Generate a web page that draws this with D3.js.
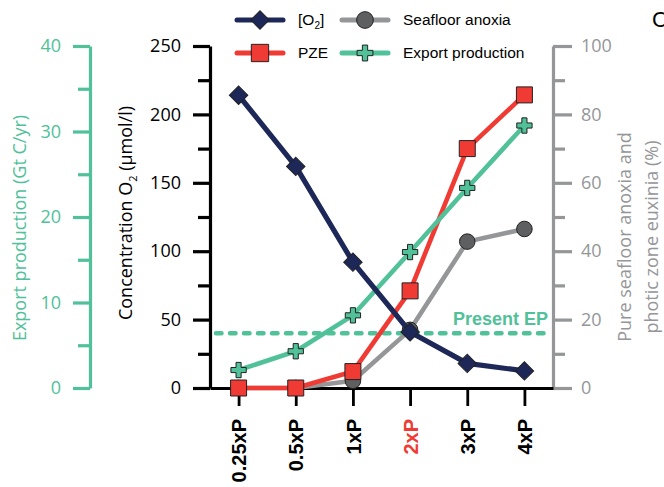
<!DOCTYPE html>
<html><head><meta charset="utf-8">
<script src="https://cdn.jsdelivr.net/npm/d3@7"></script>
<style>body{margin:0;background:#fff}</style>
</head><body><svg width="664" height="487"></svg>
<script>
// ### Data ###
var scenarios = ['0.25xP', '0.5xP', '1xP', '2xP', '3xP', '4xP'];
var o2 = [214, 162, 92, 41, 18, 12.5];          // µmol/l
var pze = [0, 0, 4.8, 28.4, 70, 85.7];           // %
var anoxia = [0, 0, 2.1, 17, 42.8, 46.5];        // %
var exportProd = [2.1, 4.3, 8.5, 15.9, 23.4, 30.7]; // Gt C/yr
var presentEP = 6.4;
var o2Ticks = [0, 50, 100, 150, 200, 250];
var o2Minor = [25, 75, 125, 175, 225];
var epTicks = [0, 10, 20, 30, 40];
var epMinor = [5, 15, 25, 35];
var pctTicks = [0, 20, 40, 60, 80, 100];
var pctMinor = [10, 30, 50, 70, 90];

var navy = '#1d2859', red = '#ef3b33', gray = '#949698', grayDark = '#5e5f61', green = '#50c198';
var numFont = '"Open Sans", sans-serif', legFont = '"Liberation Sans", Arial, sans-serif';

var svg = d3.select('svg');

// ### Scales ###
var plotTop = 46, plotBottom = 388, plotLeft = 210, plotRight = 553;
var x = d3.scalePoint().domain(scenarios).range([plotLeft, plotRight]).padding(0.5);
var yO2 = d3.scaleLinear().domain([0, 250]).range([plotBottom, plotTop]);
var yEP = d3.scaleLinear().domain([0, 40]).range([plotBottom, plotTop]);
var yPct = d3.scaleLinear().domain([0, 100]).range([plotBottom, plotTop]);

// ### Axes ###
function styleAxis(g, color, font) {
	g.select('.domain').attr('stroke', color).attr('stroke-width', 3.2);
	g.selectAll('.tick line').attr('stroke', color).attr('stroke-width', 3.2);
	g.selectAll('.tick text').attr('fill', color).style('font-family', font).style('font-size', '18px');
}

// green export production axis
var gEP = svg.append('g').attr('transform', 'translate(90,0)')
	.call(d3.axisLeft(yEP).tickValues(epTicks).tickSize(17).tickSizeOuter(0).tickPadding(12));
styleAxis(gEP, green, numFont);
svg.append('g').attr('transform', 'translate(90,0)')
	.call(d3.axisLeft(yEP).tickValues(epMinor).tickSize(12).tickFormat(''))
	.call(g => { g.select('.domain').remove(); g.selectAll('line').attr('stroke', green).attr('stroke-width', 3.2); });

// black O2 axis
var gO2 = svg.append('g').attr('transform', `translate(${plotLeft},0)`)
	.call(d3.axisLeft(yO2).tickValues(o2Ticks).tickSize(17).tickSizeOuter(0).tickPadding(12));
styleAxis(gO2, '#000', numFont);
svg.append('g').attr('transform', `translate(${plotLeft},0)`)
	.call(d3.axisLeft(yO2).tickValues(o2Minor).tickSize(12).tickFormat(''))
	.call(g => { g.select('.domain').remove(); g.selectAll('line').attr('stroke', '#000').attr('stroke-width', 3.2); });

// gray percent axis
var gPct = svg.append('g').attr('transform', `translate(${plotRight},0)`)
	.call(d3.axisRight(yPct).tickValues(pctTicks).tickSize(19).tickSizeOuter(0).tickPadding(9));
styleAxis(gPct, gray, numFont);
svg.append('g').attr('transform', `translate(${plotRight},0)`)
	.call(d3.axisRight(yPct).tickValues(pctMinor).tickSize(12).tickFormat(''))
	.call(g => { g.select('.domain').remove(); g.selectAll('line').attr('stroke', gray).attr('stroke-width', 3.2); });

// x axis
var gX = svg.append('g').attr('transform', `translate(0,${plotBottom})`)
	.call(d3.axisBottom(x).tickSize(18).tickSizeOuter(0));
gX.select('.domain').attr('stroke', '#000').attr('stroke-width', 2.8);
gX.selectAll('.tick line').attr('stroke', '#000').attr('stroke-width', 2.8);
gX.selectAll('.tick text')
	.attr('transform', 'rotate(-90)')
	.attr('x', -31).attr('y', 0).attr('dy', '0.36em')
	.attr('text-anchor', 'end')
	.style('font-family', legFont).style('font-size', '20px').style('font-weight', 'bold')
	.attr('fill', d => d === '2xP' ? red : '#000');

// ### Axis titles ###
svg.append('text').attr('transform', 'translate(26,228) rotate(-90)')
	.attr('text-anchor', 'middle').attr('fill', green)
	.style('font-family', numFont).style('font-size', '18px')
	.text('Export production (Gt C/yr)');

var t2 = svg.append('text').attr('transform', 'translate(132,213) rotate(-90)')
	.attr('text-anchor', 'middle').attr('fill', '#000')
	.style('font-family', numFont).style('font-size', '18px');
t2.append('tspan').text('Concentration O');
t2.append('tspan').text('2').attr('dy', 5).style('font-size', '11px');
t2.append('tspan').text(' (µmol/l)').attr('dy', -5);

var t3 = svg.append('text').attr('transform', 'translate(631,237) rotate(-90)')
	.attr('text-anchor', 'middle').attr('fill', gray)
	.style('font-family', numFont).style('font-size', '18px');
t3.append('tspan').attr('x', 0).text('Pure seafloor anoxia and');
t3.append('tspan').attr('x', 0).attr('dy', 27).text('photic zone euxinia (%)');

// ### Present EP ###
svg.append('line')
	.attr('x1', 216).attr('x2', plotRight - 3)
	.attr('y1', yEP(presentEP)).attr('y2', yEP(presentEP))
	.attr('stroke', green).attr('stroke-width', 4.5)
	.attr('stroke-linecap', 'round').attr('stroke-dasharray', '5.5,8.5');
svg.append('text').attr('x', 548).attr('y', yEP(presentEP) - 8)
	.attr('text-anchor', 'end').attr('fill', green)
	.style('font-family', legFont).style('font-size', '18px').style('font-weight', 'bold')
	.text('Present EP');

// ### Series ###
var series = [
	{name: 'Seafloor anoxia', vals: anoxia, y: yPct, color: gray, fill: grayDark, sym: d3.symbolCircle, size: 190, rot: 0},
	{name: 'PZE', vals: pze, y: yPct, color: red, fill: red, sym: d3.symbolSquare, size: 256, rot: 0},
	{name: 'Export production', vals: exportProd, y: yEP, color: green, fill: green, sym: d3.symbolCross, size: 130, rot: 0},
	{name: 'O2', vals: o2, y: yO2, color: navy, fill: navy, sym: d3.symbolSquare, size: 170, rot: 45}
];

series.forEach(function(s) {
	var line = d3.line().x((d, i) => x(scenarios[i])).y(d => s.y(d));
	svg.append('path').datum(s.vals)
		.attr('d', line).attr('fill', 'none')
		.attr('stroke', s.color).attr('stroke-width', s.name === 'O2' ? 5.2 : 4.6)
		.attr('stroke-linejoin', 'round');
	svg.selectAll(null).data(s.vals).enter().append('path')
		.attr('d', d3.symbol().type(s.sym).size(s.size))
		.attr('transform', (d, i) => `translate(${x(scenarios[i])},${s.y(d)}) rotate(${s.rot})`)
		.attr('fill', s.fill).attr('stroke', '#222').attr('stroke-width', 1);
});

// ### Legend ###
var legend = [
	{label: 'O2', color: navy, fill: navy, sym: d3.symbolSquare, size: 170, rot: 45, lx: 237, ly: 20},
	{label: 'Seafloor anoxia', color: gray, fill: grayDark, sym: d3.symbolCircle, size: 220, rot: 0, lx: 342, ly: 20},
	{label: 'PZE', color: red, fill: red, sym: d3.symbolSquare, size: 300, rot: 0, lx: 237, ly: 53},
	{label: 'Export production', color: green, fill: green, sym: d3.symbolCross, size: 140, rot: 0, lx: 342, ly: 53}
];
legend.forEach(function(l) {
	svg.append('line').attr('x1', l.lx).attr('x2', l.lx + 46).attr('y1', l.ly).attr('y2', l.ly)
		.attr('stroke', l.color).attr('stroke-width', 5).attr('stroke-linecap', 'round');
	svg.append('path').attr('d', d3.symbol().type(l.sym).size(l.size))
		.attr('transform', `translate(${l.lx + 23},${l.ly}) rotate(${l.rot})`)
		.attr('fill', l.fill).attr('stroke', '#222').attr('stroke-width', 1);
	var t = svg.append('text').attr('x', l.lx + 61).attr('y', l.ly + 5)
		.style('font-family', legFont).style('font-size', '15.5px').attr('fill', '#000');
	if (l.label === 'O2') {
		t.append('tspan').text('[O');
		t.append('tspan').text('2').attr('dy', 4).style('font-size', '10px');
		t.append('tspan').text(']').attr('dy', -4);
	} else {
		t.text(l.label);
	}
});

// panel letter (cut off at the edge)
svg.append('text').attr('x', 652).attr('y', 27)
	.style('font-family', legFont).style('font-size', '22px').attr('fill', '#000').text('C');
</script>
</body></html>
